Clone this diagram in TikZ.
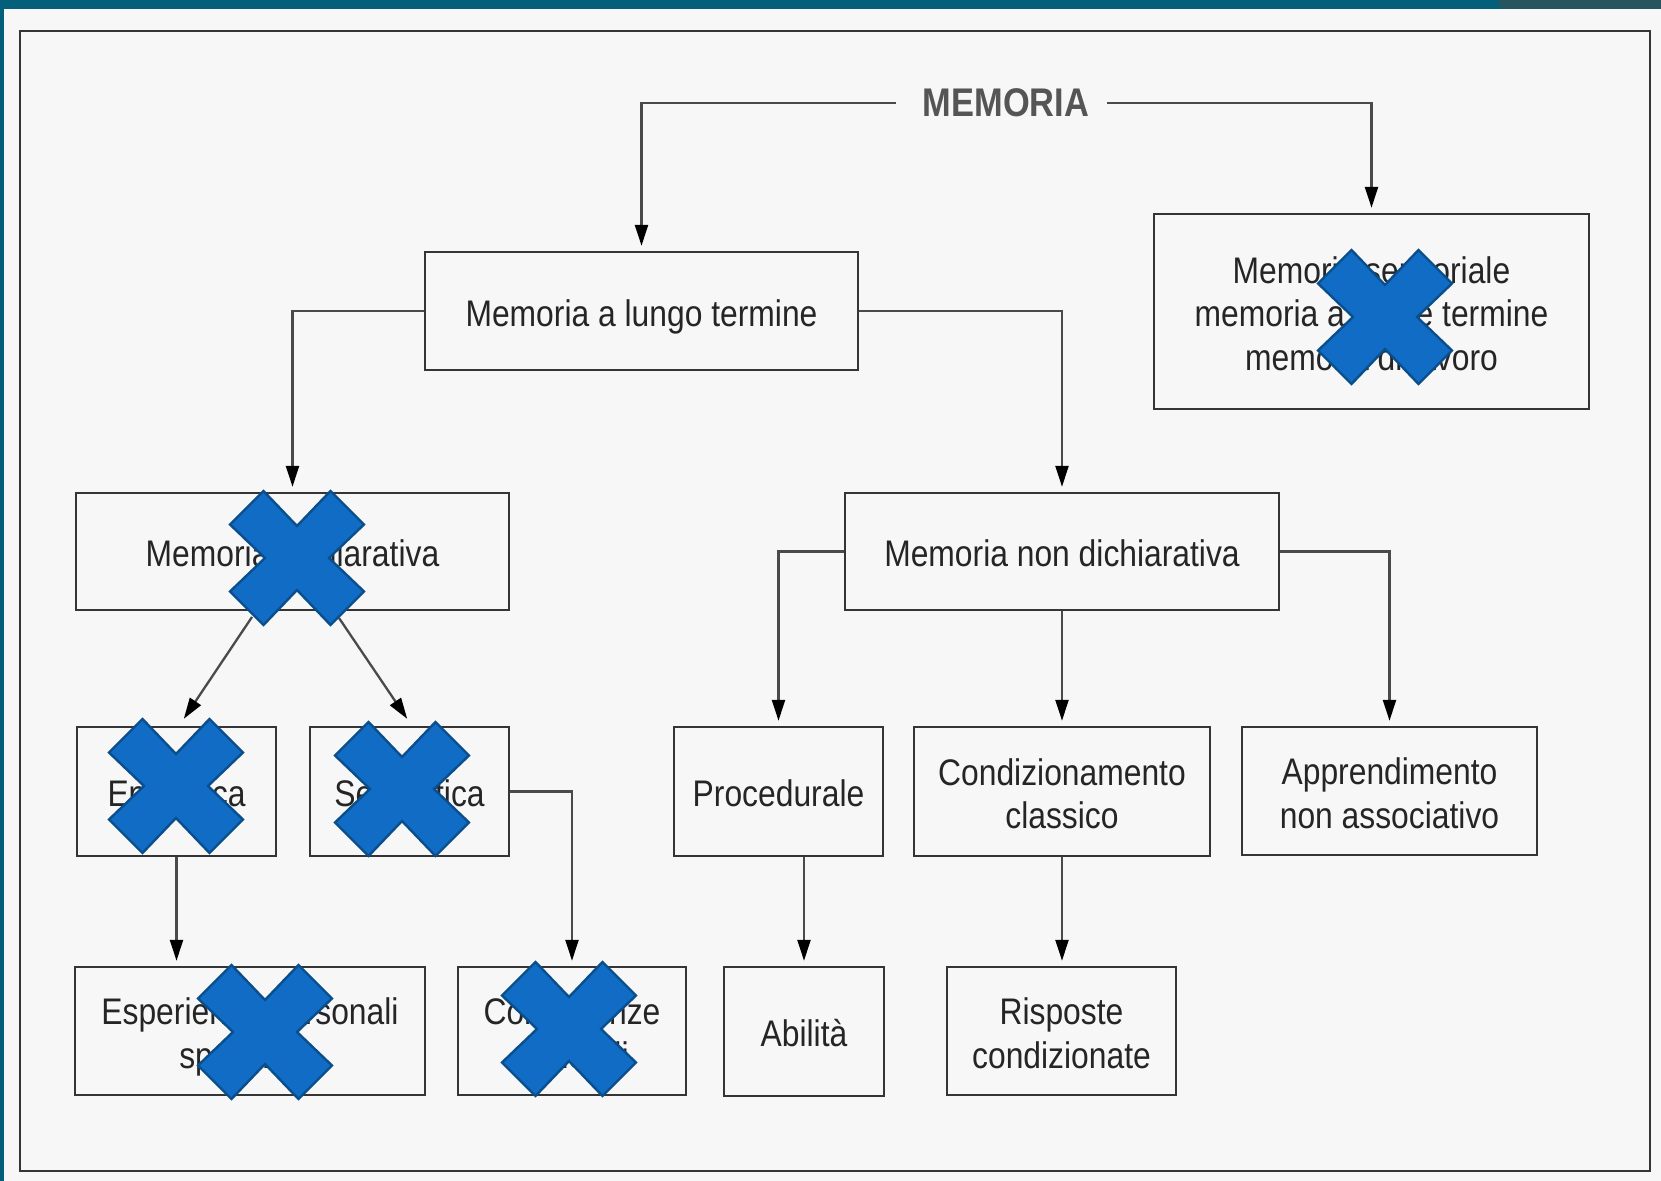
\documentclass[tikz,border=0pt]{standalone}
\usepackage{fontspec}
\setmainfont{Liberation Sans}[FakeStretch=0.86]
\usetikzlibrary{arrows.meta}
\definecolor{teal}{HTML}{04607A}
\definecolor{tealdark}{HTML}{27555F}
\definecolor{paper}{HTML}{F7F7F7}
\definecolor{boxc}{HTML}{353535}
\definecolor{linec}{HTML}{4A4A4A}
\definecolor{memc}{HTML}{555555}
\definecolor{txtc}{HTML}{252525}
\definecolor{xfill}{HTML}{106CC4}
\definecolor{xedge}{HTML}{0B4E8C}
\tikzset{
  box/.style={draw=boxc, line width=1.2pt, inner sep=0pt, text=txtc,
    font=\fontsize{18.5}{21.6}\selectfont},
  conn/.style={draw=linec, line width=1.15pt},
  arr/.style={conn, -{Triangle[length=10.5pt,width=6.5pt,fill=black,color=black]}, shorten >=2.5pt},
  xmk/.style={fill=xfill, draw=xedge, line width=1.2pt, line join=miter},
}
\newcommand\lbl[1]{\raisebox{-3.4pt}[\height][\depth]{\begin{tabular}{@{}c@{}}#1\end{tabular}}}
\newcommand\bluecross[1]{\draw[xmk, shift={(#1)}] (-33.5,-67) -- (0,-32) -- (33.5,-67) -- (67,-33.5) -- (32,0) -- (67,33.5) -- (33.5,67) -- (0,32) -- (-33.5,67) -- (-67,33.5) -- (-32,0) -- (-67,-33.5) -- cycle;}
\begin{document}
\begin{tikzpicture}[x=0.5pt,y=-0.5pt]
\useasboundingbox (0,0) rectangle (1661,1181);
% background
\fill[teal] (0,0) rectangle (1661,1181);
\fill[tealdark] (1497,0) -- (1661,0) -- (1661,9) -- (1502,9) -- cycle;
\fill[paper] (4,9) rectangle (1661,1181);
\draw[boxc, line width=1.4pt] (20,31) rectangle (1650,1171);

% nodes
\node[text=memc, font=\bfseries\fontsize{20}{24}\selectfont, inner xsep=13pt, inner ysep=0pt] (mem) at (1006,103) {MEMORIA};
\node[box, minimum width=216.5pt, minimum height=59pt] (lungo) at (641.5,311) {\lbl{Memoria a lungo termine}};
\node[box, minimum width=217.5pt, minimum height=97.5pt] (sens) at (1371.5,311.5) {\lbl{Memoria sensoriale\\memoria a breve termine\\memoria di lavoro}};
\node[box, minimum width=216.5pt, minimum height=58.5pt] (dich) at (292.5,551.5) {\lbl{Memoria dichiarativa}};
\node[box, minimum width=217pt, minimum height=58.5pt] (nondich) at (1062,551.5) {\lbl{Memoria non dichiarativa}};
\node[box, minimum width=99.5pt, minimum height=64.5pt] (epis) at (176.5,791.5) {\lbl{Episodica}};
\node[box, minimum width=99.5pt, minimum height=64.5pt] (sem) at (409.5,791.5) {\lbl{Semantica}};
\node[box, minimum width=104.5pt, minimum height=64.5pt] (proc) at (778.5,791.5) {\lbl{Procedurale}};
\node[box, minimum width=148pt, minimum height=64.5pt] (cond) at (1062,791.5) {\lbl{Condizionamento\\classico}};
\node[box, minimum width=147.5pt, minimum height=64pt] (appr) at (1389.5,791) {\lbl{Apprendimento\\non associativo}};
\node[box, minimum width=175pt, minimum height=64pt] (esper) at (250,1031) {\lbl{Esperienze personali\\specifiche}};
\node[box, minimum width=114pt, minimum height=64pt] (con) at (572,1031) {\lbl{Conoscenze\\generali}};
\node[box, minimum width=80pt, minimum height=64.5pt] (abil) at (804,1031.5) {\lbl{Abilità}};
\node[box, minimum width=114.5pt, minimum height=64pt] (risp) at (1061.5,1031) {\lbl{Risposte\\condizionate}};

% connectors
\draw[arr] (mem.west) -| (lungo.north);
\draw[arr] ([xshift=-4.2pt]mem.east) -| (sens.north);
\draw[arr] (lungo.west) -| (dich.north);
\draw[arr] (lungo.east) -| (nondich.north);
\coordinate (d1s) at (252,617);
\coordinate (d1e) at (181,723);
\coordinate (d2s) at (339,618);
\coordinate (d2e) at (410,723);
\draw[arr] (d1s) -- (d1e);
\draw[arr] (d2s) -- (d2e);
\draw[arr] (epis.south) -- (epis.south |- esper.north);
\draw[arr] (sem.east) -| (con.north);
\draw[arr] (nondich.west) -| (proc.north);
\draw[arr] (nondich.south) -- (cond.north);
\draw[arr] (nondich.east) -| (appr.north);
\draw[arr] (abil.north |- proc.south) -- (abil.north);
\draw[arr] (cond.south) -- (cond.south |- risp.north);

% crosses
\bluecross{1385,317}
\bluecross{297,558}
\bluecross{176,786}
\bluecross{402,789}
\bluecross{265,1032}
\bluecross{569,1029}
\end{tikzpicture}
\end{document}
